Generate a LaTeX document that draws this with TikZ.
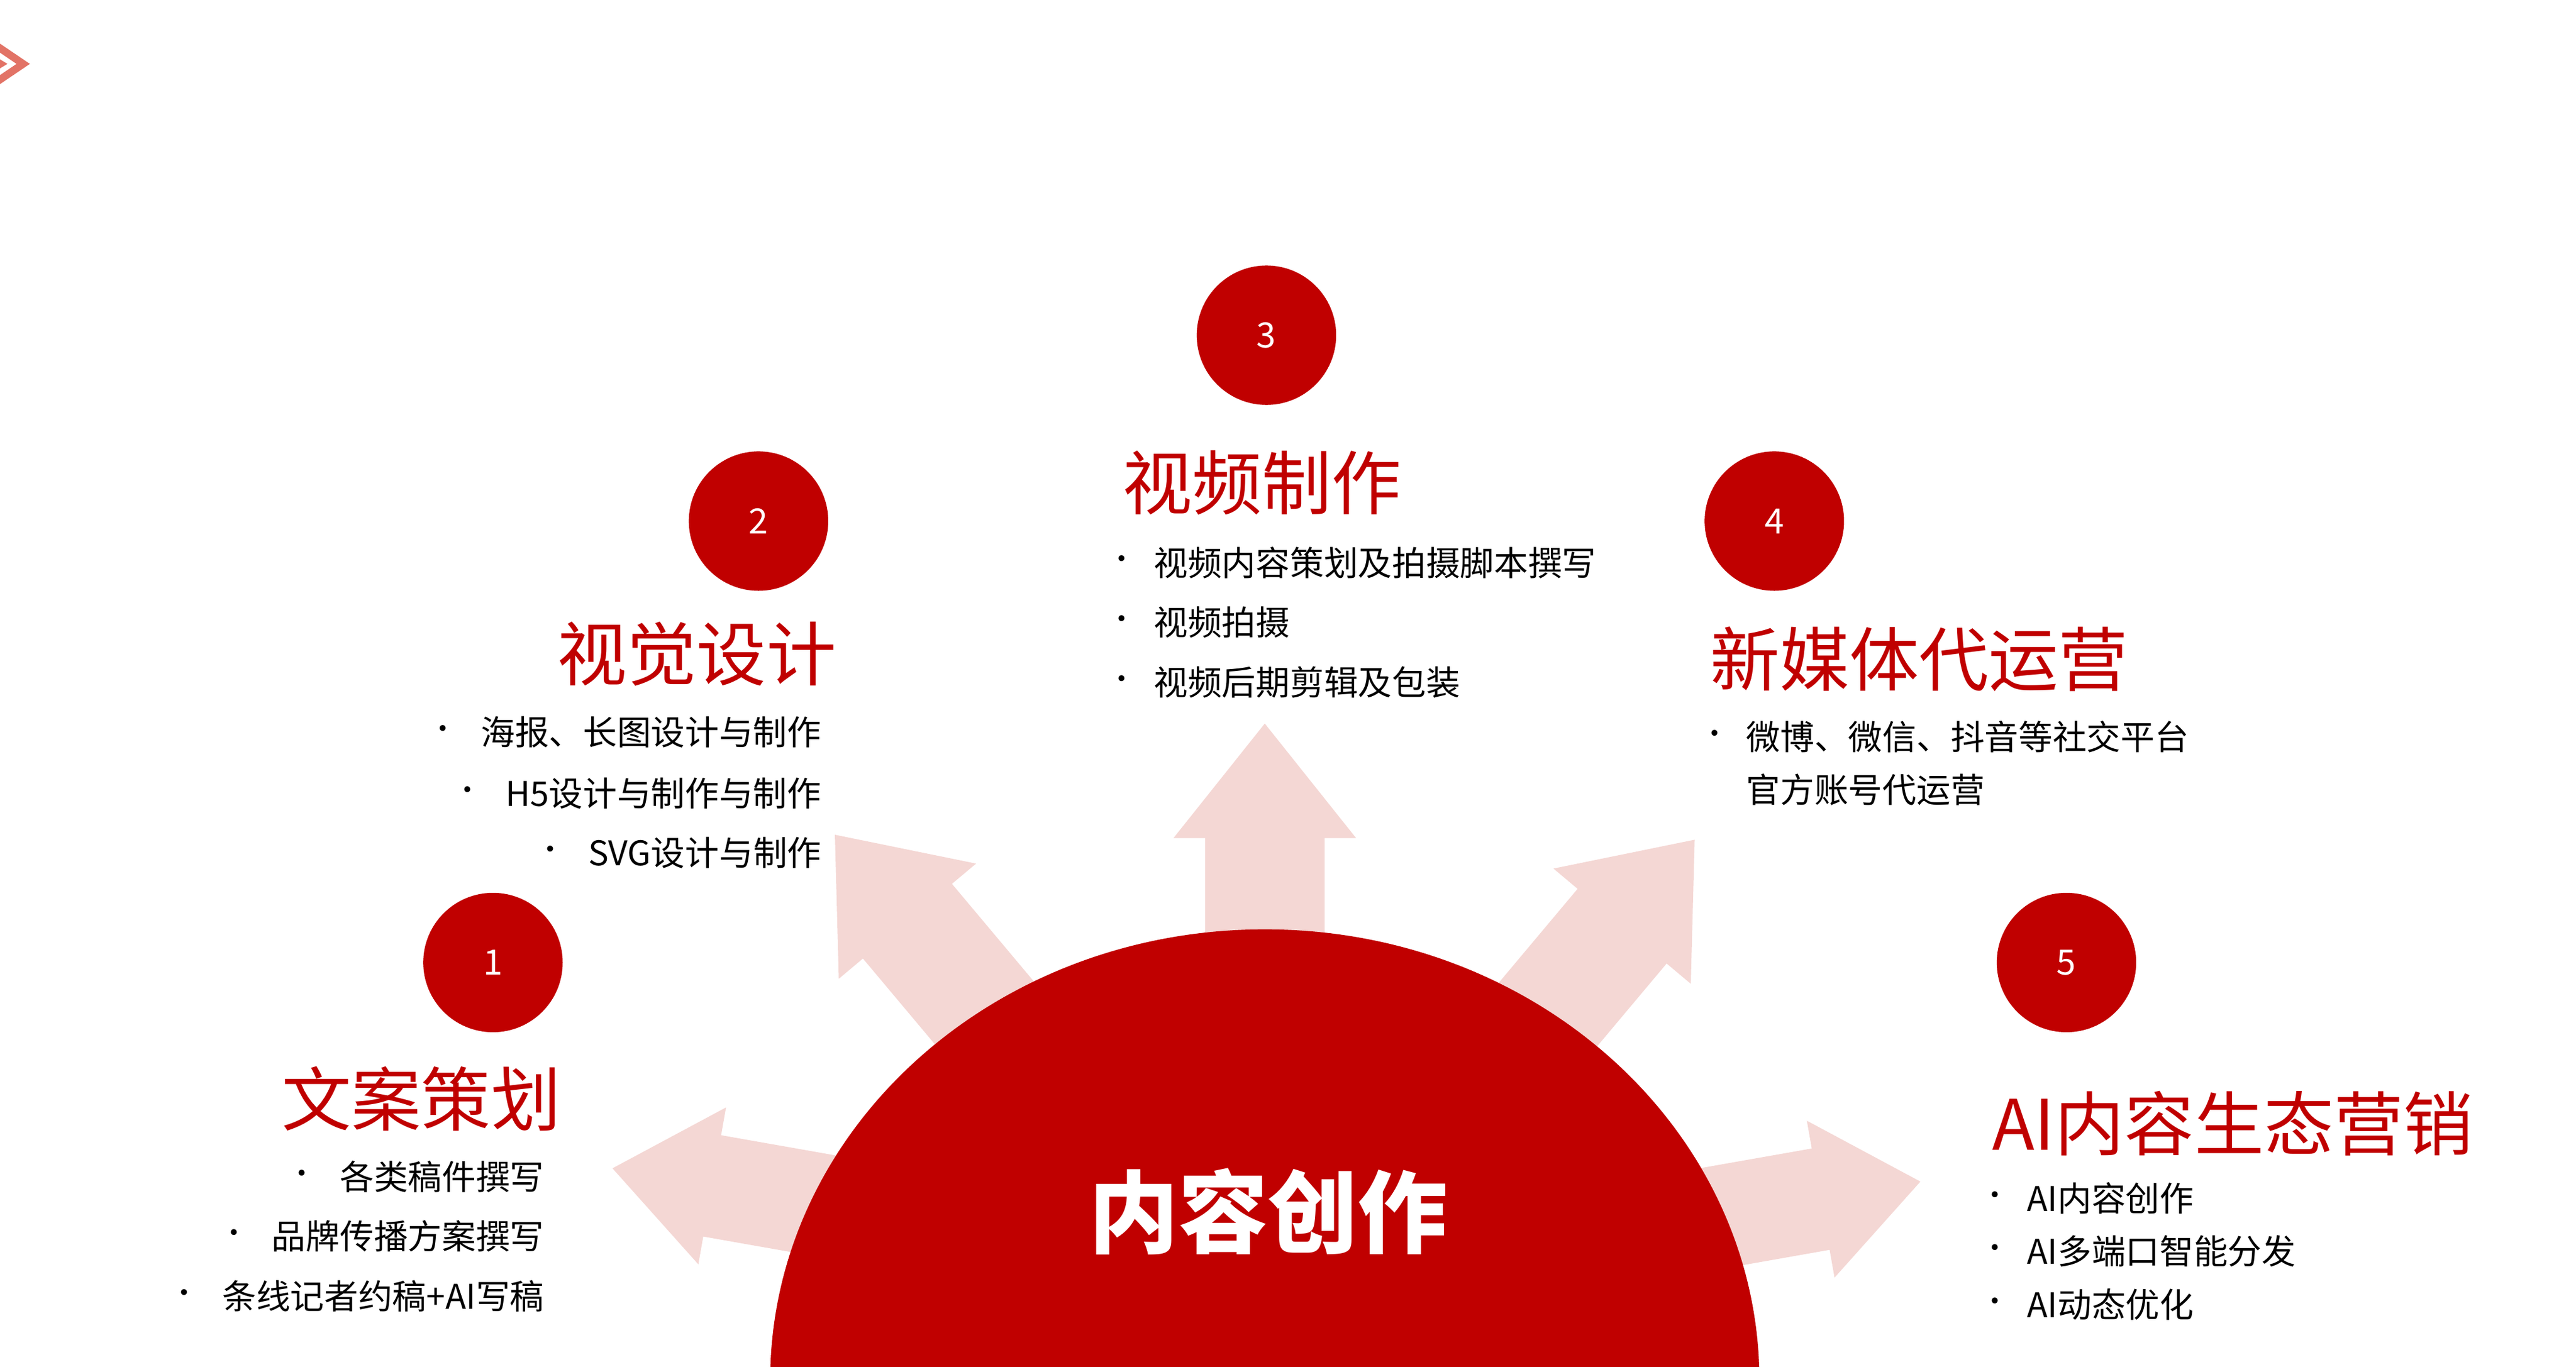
\documentclass[tikz,border=0pt]{standalone}
\usepackage{fontspec}
\setmainfont{Noto Sans CJK SC}
\begin{document}
\definecolor{dred}{HTML}{C00000}
\definecolor{pinkar}{HTML}{F4D7D4}
\definecolor{icon}{HTML}{E27366}
\newcommand\myarrow[8]{\fill[pinkar, shift={(#1,-#2)}, rotate=#3] (0,0) -- (-#4,#5) -- (-#4,#6) -- (-#7,#6) -- (-#7,-#6) -- (-#4,-#6) -- (-#4,-#5) -- cycle;}
\begin{tikzpicture}[x=1pt,y=1pt,
  num/.style={circle,fill=dred,minimum size=84pt,inner sep=0pt,text=white,font=\fontsize{21}{24}\selectfont},
  ttl/.style={text=dred,inner sep=0pt,font=\fontsize{42}{46}\selectfont},
  itm/.style={inner sep=0pt,font=\fontsize{20.5}{24}\selectfont},
  dot/.style={inner sep=0pt,font=\fontsize{17}{18}\selectfont}]
\useasboundingbox (0,0) rectangle (1552,-823.7);
% icon
\draw[icon,line width=4.5pt] (-3,-27) -- (14,-38.5) -- (-3,-50);
\fill[icon] (-3,-34) -- (4.5,-38.5) -- (-3,-43) -- cycle;
% arrows
\myarrow{762}{436}{90}{69}{55}{36}{260}{}
\myarrow{503}{503}{130}{68}{54}{35}{260}{}
\myarrow{1021}{506}{50}{68}{54}{35}{260}{}
\myarrow{369}{704}{170}{61}{48}{31}{230}{}
\myarrow{1157}{712}{10}{61}{48}{31}{230}{}
% dome
\fill[dred] (464,-832) arc[start angle=180,end angle=0,x radius=298,y radius=272] -- cycle;
\node[text=white,inner sep=0pt,font=\fontsize{54}{60}\selectfont\bfseries] (core) at (764,-730) {内容创作};
% circles
\node[num] (c1) at (297,-580) {1};
\node[num] (c2) at (457,-314) {2};
\node[num] (c3) at (763,-202) {3};
\node[num] (c4) at (1069,-314) {4};
\node[num] (c5) at (1245,-580) {5};
% titles
\node[ttl,anchor=west] (t3) at (676,-291) {视频制作};
\node[ttl,anchor=east] (t2) at (504,-394) {视觉设计};
\node[ttl,anchor=east] (t1) at (338,-662) {文案策划};
\node[ttl,anchor=west] (t4) at (1030,-397) {新媒体代运营};
\node[ttl,anchor=west] (t5) at (1200,-677) {AI内容生态营销};
% video
\foreach \y/\t [count=\i] in {339/视频内容策划及拍摄脚本撰写,375/视频拍摄,411/视频后期剪辑及包装}{
  \node[itm,anchor=west] (v\i) at (695,-\y) {\t};
  \node[dot] (vd\i) at (676,-\y) {•};}
% visual
\foreach \y/\t [count=\i] in {441/海报、长图设计与制作,478/H5设计与制作与制作,514/SVG设计与制作}{
  \node[itm,anchor=east] (s\i) at (495,-\y) {\t};
  \node[dot,anchor=east] (sd\i) at ([xshift=-14pt]s\i.west) {•};}
% copy
\foreach \y/\t [count=\i] in {709/各类稿件撰写,745/品牌传播方案撰写,781/条线记者约稿+AI写稿}{
  \node[itm,anchor=east] (w\i) at (328,-\y) {\t};
  \node[dot,anchor=east] (wd\i) at ([xshift=-14pt]w\i.west) {•};}
% new media
\node[itm,anchor=west] (n1) at (1052,-444) {微博、微信、抖音等社交平台};
\node[itm,anchor=west] (n2) at (1052,-476) {官方账号代运营};
\node[dot] (nd1) at (1033,-444) {•};
% AI
\foreach \y/\t [count=\i] in {722/AI内容创作,754/AI多端口智能分发,786/AI动态优化}{
  \node[itm,anchor=west] (a\i) at (1221,-\y) {\t};
  \node[dot] (ad\i) at (1202,-\y) {•};}
\end{tikzpicture}
\end{document}
